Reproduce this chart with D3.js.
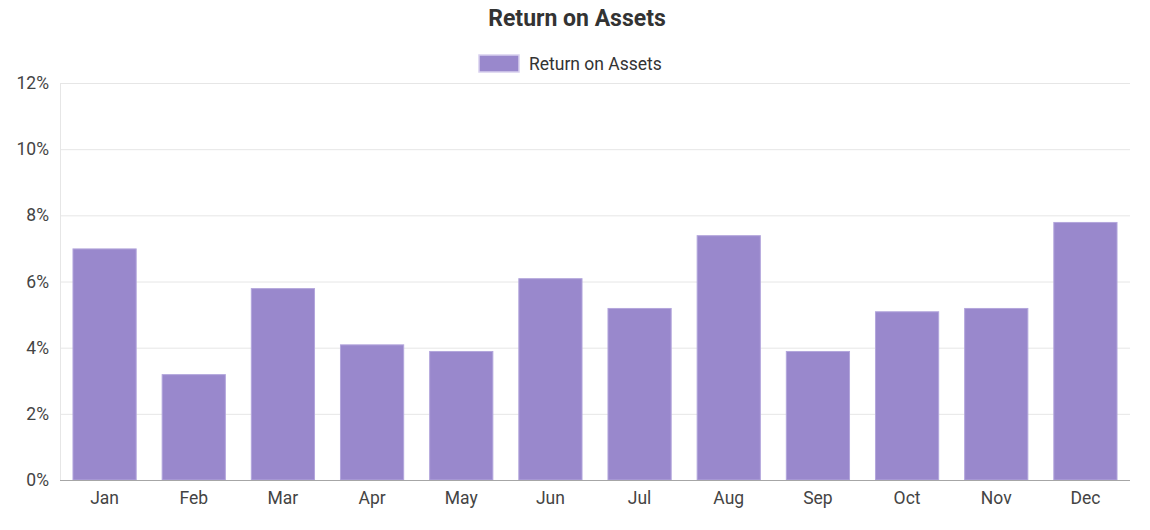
<!DOCTYPE html>
<html><head><meta charset="utf-8">
<script src="https://cdn.jsdelivr.net/npm/d3@7"></script>
<style>
html,body{margin:0;padding:0;background:#fff;}
svg{display:block;font-family:Roboto, "Helvetica Neue", Arial, sans-serif;}
</style></head>
<body><svg id="chart" width="1150" height="530"></svg>
<script>
const months = ["Jan","Feb","Mar","Apr","May","Jun","Jul","Aug","Sep","Oct","Nov","Dec"];
const roaValues = [7.0, 3.2, 5.8, 4.1, 3.9, 6.1, 5.2, 7.4, 3.9, 5.1, 5.2, 7.8];
const yTicks = [0, 2, 4, 6, 8, 10, 12];
const chartTitle = "Return on Assets";
const seriesName = "Return on Assets";

(function () {
const svg = d3.select("#chart");
const pLeft = 60, pRight = 1130, pTop = 83, pBottom = 480;
const fill = "#9988cc", stroke = "#b3a6dc";

const x = d3.scaleBand().domain(months).range([pLeft, pRight]).paddingInner(0.28).paddingOuter(0.14);
const y = d3.scaleLinear().domain([0, 12]).range([pBottom, pTop]);

// gridlines
svg.append("g").selectAll("line").data(yTicks.filter(d => d > 0)).join("line")
  .attr("x1", pLeft).attr("x2", pRight)
  .attr("y1", d => y(d) + 0.5).attr("y2", d => y(d) + 0.5)
  .attr("stroke", "#e6e6e6").attr("stroke-width", 1);
// left axis line
svg.append("line").attr("x1", pLeft + 0.5).attr("x2", pLeft + 0.5).attr("y1", pTop).attr("y2", pBottom)
  .attr("stroke", "#e6e6e6");

// y tick labels
svg.append("g").selectAll("text").data(yTicks).join("text")
  .attr("x", 49).attr("y", d => y(d)).attr("dy", "0.35em")
  .attr("text-anchor", "end").attr("font-size", 17.5).attr("fill", "#444")
  .text(d => d + "%");

// bars
svg.append("g").selectAll("rect").data(roaValues).join("rect")
  .attr("x", (d, i) => x(months[i]) + 0.5)
  .attr("width", x.bandwidth() - 1)
  .attr("y", d => y(d) + 0.5)
  .attr("height", d => y(0) - y(d) - 0.5)
  .attr("fill", fill).attr("stroke", stroke).attr("stroke-width", 1);

// x axis line
svg.append("line").attr("x1", pLeft).attr("x2", pRight).attr("y1", pBottom + 0.5).attr("y2", pBottom + 0.5)
  .attr("stroke", "#a6a6a6").attr("stroke-width", 1);

// x labels
svg.append("g").selectAll("text").data(months).join("text")
  .attr("x", d => x(d) + x.bandwidth() / 2).attr("y", 504)
  .attr("text-anchor", "middle").attr("font-size", 17.5).attr("fill", "#444")
  .text(d => d);

// title
svg.append("text").attr("x", 577).attr("y", 26).attr("text-anchor", "middle")
  .attr("font-size", 23).attr("font-weight", "bold").attr("fill", "#333").text(chartTitle);

// legend
svg.append("rect").attr("x", 479).attr("y", 55).attr("width", 40).attr("height", 17)
  .attr("fill", fill).attr("stroke", "#d8d0ee").attr("stroke-width", 1.5);
svg.append("text").attr("x", 529).attr("y", 70).attr("font-size", 17.5).attr("fill", "#333").text(seriesName);
})();
</script>
</body></html>
